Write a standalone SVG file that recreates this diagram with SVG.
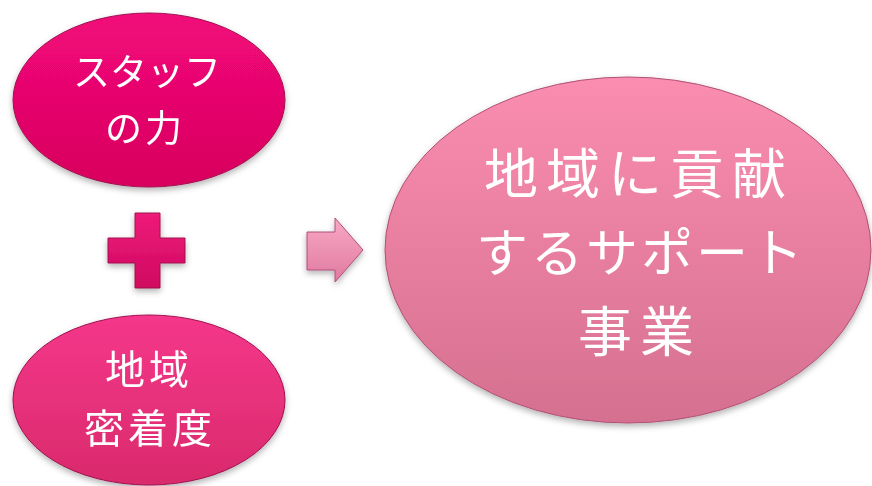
<svg xmlns="http://www.w3.org/2000/svg" width="872" height="486" viewBox="0 0 872 486">
<style>
.t{fill:#fff;font-family:"Noto Sans CJK JP","Noto Sans CJK SC",sans-serif;text-anchor:middle;dominant-baseline:central}
</style>
<defs>
<linearGradient id="g1" x1="0" y1="0" x2="0" y2="1"><stop offset="0" stop-color="#F2087A"/><stop offset="1" stop-color="#D8035E"/></linearGradient>
<linearGradient id="g2" x1="0" y1="0" x2="0" y2="1"><stop offset="0" stop-color="#F5378A"/><stop offset="1" stop-color="#D92A6C"/></linearGradient>
<linearGradient id="g3" x1="0" y1="0" x2="0" y2="1"><stop offset="0" stop-color="#FA8DB0"/><stop offset="1" stop-color="#D57090"/></linearGradient>
<linearGradient id="g4" x1="0" y1="0" x2="0" y2="1"><stop offset="0" stop-color="#EE1A7A"/><stop offset="1" stop-color="#D00A60"/></linearGradient>
<linearGradient id="g5" x1="0" y1="0" x2="0" y2="1"><stop offset="0" stop-color="#F8A8C4"/><stop offset="1" stop-color="#E07A9E"/></linearGradient>
<filter id="sh" x="-10%" y="-10%" width="120%" height="125%"><feDropShadow dx="0" dy="3" stdDeviation="3" flood-color="#000" flood-opacity="0.3"/></filter>
</defs>
<g id="staff" filter="url(#sh)">
<ellipse cx="149" cy="100" rx="136" ry="87" fill="url(#g1)" stroke="#A0104E" stroke-width="1"/>
<text class="t" x="147" y="70" font-size="37">スタッフ</text>
<text class="t" x="145" y="126" font-size="37" letter-spacing="3">の力</text>
</g>
<g id="plus" filter="url(#sh)">
<path d="M135 213 H160 V238 H185 V263 H160 V288 H135 V263 H108 V238 H135 Z" fill="url(#g4)" stroke="#A0104E" stroke-width="1"/>
</g>
<g id="local" filter="url(#sh)">
<ellipse cx="149" cy="400" rx="136" ry="85" fill="url(#g2)" stroke="#A0104E" stroke-width="1"/>
<text class="t" x="149" y="367" font-size="40" letter-spacing="4">地域</text>
<text class="t" x="150" y="426" font-size="40" letter-spacing="4">密着度</text>
</g>
<g id="connectors" filter="url(#sh)">
<path d="M307 232 H335 V218 L363 250 L335 282 V270 H307 Z" fill="url(#g5)" stroke="#B0507A" stroke-width="1"/>
</g>
<g id="support" filter="url(#sh)">
<ellipse cx="628" cy="250" rx="243" ry="173" fill="url(#g3)" stroke="#B05075" stroke-width="1"/>
<text class="t" x="639" y="170" font-size="54" letter-spacing="8">地域に貢献</text>
<text class="t" x="641" y="249" font-size="52" letter-spacing="3">するサポート</text>
<text class="t" x="640" y="328" font-size="54" letter-spacing="8">事業</text>
</g>
</svg>
